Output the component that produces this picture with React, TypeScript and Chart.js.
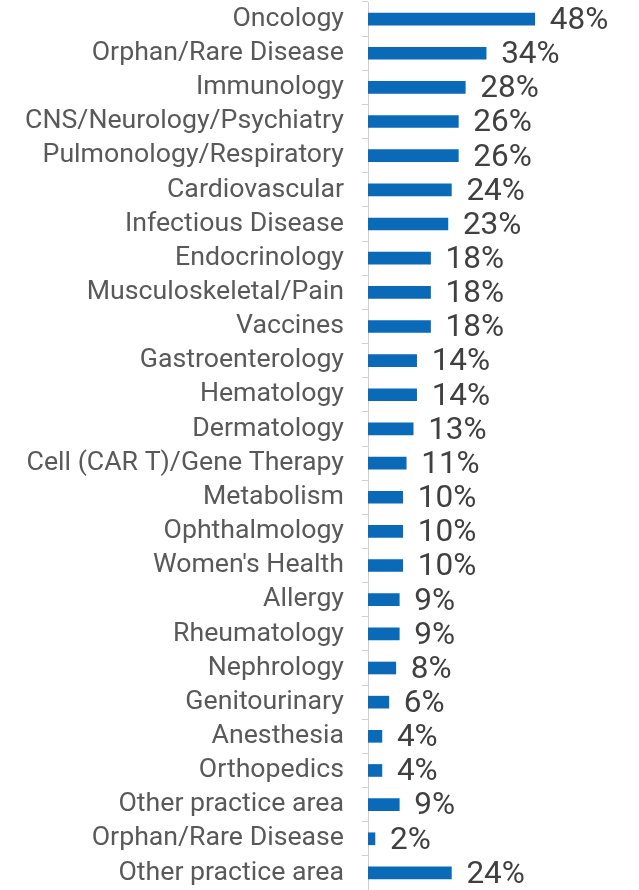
import React, { useEffect, useRef } from "react";
import { Chart, registerables } from "chart.js";

Chart.register(...registerables);

const categories = [
  "Oncology",
  "Orphan/Rare Disease",
  "Immunology",
  "CNS/Neurology/Psychiatry",
  "Pulmonology/Respiratory",
  "Cardiovascular",
  "Infectious Disease",
  "Endocrinology",
  "Musculoskeletal/Pain",
  "Vaccines",
  "Gastroenterology",
  "Hematology",
  "Dermatology",
  "Cell (CAR T)/Gene Therapy",
  "Metabolism",
  "Ophthalmology",
  "Women's Health",
  "Allergy",
  "Rheumatology",
  "Nephrology",
  "Genitourinary",
  "Anesthesia",
  "Orthopedics",
  "Other practice area",
  "Orphan/Rare Disease",
  "Other practice area",
];

const values = [48, 34, 28, 26, 26, 24, 23, 18, 18, 18, 14, 14, 13, 11, 10, 10, 10, 9, 9, 8, 6, 4, 4, 9, 2, 24];

const valueLabelPlugin = {
  id: "valueLabels",
  afterDatasetsDraw(chart: any) {
    const ctx = chart.ctx;
    const meta = chart.getDatasetMeta(0);
    ctx.save();
    ctx.font = "31.5px Roboto";
    ctx.fillStyle = "#404040";
    ctx.textAlign = "left";
    ctx.textBaseline = "middle";
    meta.data.forEach((bar: any, i: number) => {
      ctx.fillText(values[i] + "%", bar.x + 15, bar.y + 2);
    });
    ctx.restore();
  },
};

export default function App() {
  const ref = useRef<HTMLCanvasElement>(null);
  useEffect(() => {
    document.body.style.margin = "0";
    const chart = new Chart(ref.current!, {
      type: "bar",
      data: {
        labels: categories,
        datasets: [
          {
            data: values,
            backgroundColor: "#0A6AB8",
            barThickness: 12,
          },
        ],
      },
      options: {
        indexAxis: "y",
        animation: false,
        responsive: false,
        maintainAspectRatio: false,
        layout: { padding: { top: 2, bottom: 0, left: 0, right: 0 } },
        plugins: {
          legend: { display: false },
          tooltip: { enabled: false },
        },
        scales: {
          x: {
            display: false,
            min: 0,
            max: 78,
          },
          y: {
            afterFit(scale: any) {
              scale.width = 368;
              scale.paddingTop = 0;
              scale.paddingBottom = 0;
            },
            grid: {
              drawOnChartArea: false,
              tickLength: 6,
              color: "#D0D0D0",
              offset: true,
            },
            border: { color: "#D0D0D0", width: 1 },
            ticks: {
              autoSkip: false,
              padding: 18,
              color: "#595959",
              font: { family: "Roboto", size: 26.7 },
            },
          },
        },
      },
      plugins: [valueLabelPlugin],
    });
    return () => chart.destroy();
  }, []);
  return (
    <div style={{ width: 639, height: 890 }}>
      <canvas ref={ref} width={639} height={890} style={{ display: "block" }} />
    </div>
  );
}
